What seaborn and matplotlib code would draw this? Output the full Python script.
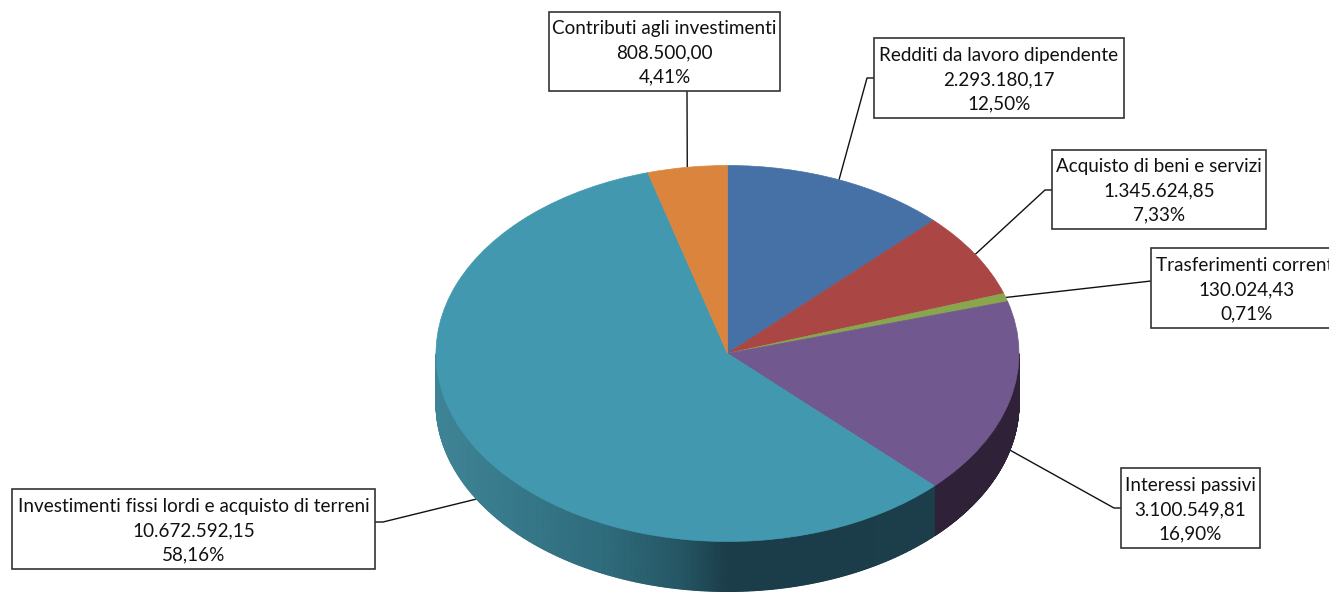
import numpy as np
import matplotlib
matplotlib.use("Agg")
import matplotlib.pyplot as plt
from matplotlib.colors import LinearSegmentedColormap
from matplotlib.patches import Rectangle
import seaborn as sns

# ---- data ----
categories = ["Redditi da lavoro dipendente", "Acquisto di beni e servizi",
              "Trasferimenti correnti", "Interessi passivi",
              "Investimenti fissi lordi e acquisto di terreni",
              "Contributi agli investimenti"]
values = [2293180.17, 1345624.85, 130024.43, 3100549.81, 10672592.15, 808500.00]
colors = ["#4571A6", "#AA4643", "#89A54E", "#71588F", "#4198AF", "#DB843D"]

# ---- layout (pixels of the 1329x592 canvas) ----
W, H = 1329, 592
CX, CY, RX, RY, DEPTH = 727.5, 353.5, 291.5, 188.0, 50.0
boxes = [(874, 38, 1124, 118), (1052, 150, 1266, 229), (1151, 248, 1343, 328),
         (1121, 468, 1260, 548), (12, 489, 375, 569), (549, 12, 780, 91)]
elbows = [[(867, 78), (874, 78)], [(1045, 190), (1052, 190)], [(1151, 281)],
          [(1114, 508), (1121, 508)], [(383, 522), (375, 522)], [(687, 91)]]

sns.set_theme(style="white")
plt.rcParams["font.family"] = ["Lato", "DejaVu Sans"]

fig = plt.figure(figsize=(W / 100, H / 100), dpi=100)
ax = fig.add_axes([0, 0, 1, 1])

palette = sns.color_palette(colors)
wedges, _ = ax.pie(values, colors=palette, startangle=90, counterclock=False, radius=1,
                   wedgeprops={"linewidth": 0})
for w in wedges:
    w.set_zorder(3)
    w.set_edgecolor(w.get_facecolor())
    w.set_linewidth(0.5)
ax.set_aspect("auto")
ax.set_xlim(-CX / RX, (W - CX) / RX)
ax.set_ylim(-(H - CY) / RY, CY / RY)
ax.axis("off")


def to_data(px, py):
    return (px - CX) / RX, (CY - py) / RY


d = DEPTH / RY
fractions = np.array(values) / np.sum(values)
edges = np.concatenate([[0], np.cumsum(fractions)]) * 2 * np.pi  # clockwise from top

# side wall, only the part of each slice facing the viewer
teal = LinearSegmentedColormap.from_list("teal", [
    (0.00, "#3F8496"), (0.12, "#377A8C"), (0.30, "#2E6A7A"),
    (0.42, "#255664"), (0.50, "#1B3D49"), (1.00, "#1C3D4A")])
wall_sets = [(3, ["#2E2138", "#2E2138"]), (4, None)]
for i, cols in wall_sets:
    lo = max(edges[i], np.pi / 2)
    hi = min(edges[i + 1], 3 * np.pi / 2)
    t = np.linspace(lo, hi, 400)
    x = np.sin(t)
    y = np.cos(t)
    X = np.vstack([x, x])
    Y = np.vstack([y, y - d])
    cmap = teal if cols is None else LinearSegmentedColormap.from_list("p", cols)
    C = (X + 1) / 2
    ax.pcolormesh(X, Y, C, shading="gouraud", cmap=cmap, vmin=0, vmax=1,
                  zorder=2, antialiased=True)

# labels with leader lines
for i, name in enumerate(categories):
    mid = (edges[i] + edges[i + 1]) / 2
    ax0, ay0 = np.sin(mid), np.cos(mid)
    if ay0 < 0:
        ay0 -= d
    pts = [(ax0, ay0)] + [to_data(*p) for p in elbows[i]]
    ax.plot([p[0] for p in pts], [p[1] for p in pts], color="#111111", lw=1.0,
            zorder=1, solid_capstyle="butt")
    x0, y0, x1, y1 = boxes[i]
    bx0, by1 = to_data(x0, y0)
    bx1, by0 = to_data(x1, y1)
    ax.add_patch(Rectangle((bx0, by0), bx1 - bx0, by1 - by0, facecolor="white",
                           edgecolor="#333333", lw=1.2, zorder=4))
    amount = f"{values[i]:,.2f}".replace(",", "X").replace(".", ",").replace("X", ".")
    pct = f"{fractions[i] * 100:.2f}".replace(".", ",") + "%"
    tx, ty = to_data((x0 + x1) / 2, (y0 + y1) / 2 + 1.5)
    ax.text(tx, ty, f"{name}\n{amount}\n{pct}", ha="center", va="center",
            fontsize=13.6, color="#111111", linespacing=1.5, zorder=5)

fig.savefig("out.png", dpi=100)
